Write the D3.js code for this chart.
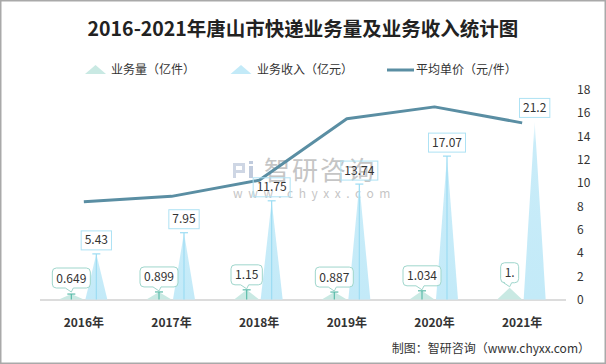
<!DOCTYPE html>
<html><head><meta charset="utf-8">
<script src="https://cdn.jsdelivr.net/npm/d3@7/dist/d3.min.js"></script>
<style>
html,body{margin:0;padding:0;background:#fff;}
text{font-family:"Noto Sans CJK SC","Microsoft YaHei",sans-serif;}
</style></head><body>
<svg id="chart" width="606" height="364"></svg>
<script>
const years = ["2016年","2017年","2018年","2019年","2020年","2021年"];
const volume = [0.649, 0.899, 1.15, 0.887, 1.034, 1.4];
const volumeLabels = ["0.649","0.899","1.15","0.887","1.034","1."];
const revenue = [5.43, 7.95, 11.75, 13.74, 17.07, 21.2];
const revenueLabels = ["5.43","7.95","11.75","13.74","17.07","21.2"];
const price = [8.37, 8.84, 10.22, 15.49, 16.51, 15.14];
const rightTicks = [0,2,4,6,8,10,12,14,16,18];
const legendNames = ["业务量（亿件）","业务收入（亿元）","平均单价（元/件）"];
const titleText = "2016-2021年唐山市快递业务量及业务收入统计图";
const sourceText = "制图：智研咨询（www.chyxx.com）";

const C = {vol:"#c9e9e3", volEdge:"#9fd6cc", volCap:"#5cbcaa", rev:"#c3eaf8", revCap:"#9cdcf3",
           revBox:"#aee2f4", line:"#5a8ea3", text:"#333"};

const svg = d3.select("#chart");
const defs = svg.append("defs");
const gr = defs.append("linearGradient").attr("id","revGrad").attr("x1",0).attr("y1",0).attr("x2",0).attr("y2",1);
gr.append("stop").attr("offset","0%").attr("stop-color",C.rev).attr("stop-opacity",0.25);
gr.append("stop").attr("offset","12%").attr("stop-color",C.rev).attr("stop-opacity",0.9);
gr.append("stop").attr("offset","100%").attr("stop-color",C.rev).attr("stop-opacity",1);

svg.append("rect").attr("x",0.75).attr("y",0.75).attr("width",604.5).attr("height",362.5)
  .attr("fill","#fff").attr("stroke","#a9a9a9").attr("stroke-width",1.5);

const x = d3.scaleBand().domain(years).range([40,566]);
const yL = d3.scaleLinear().domain([0,25]).range([299.5,89.5]);
const yR = d3.scaleLinear().domain([0,18]).range([299.5,89.5]);
const bw = 23, off = 12.5;

// title
svg.append("text").attr("x",303).attr("y",36).attr("text-anchor","middle")
  .attr("font-size",19.5).attr("font-weight","bold").attr("fill","#222").text(titleText);

// watermark
const wm = svg.append("g").attr("opacity",0.6);
wm.append("rect").attr("x",233).attr("y",163).attr("width",12).attr("height",3).attr("fill","#aebbd3");
wm.append("rect").attr("x",233).attr("y",163).attr("width",3).attr("height",15).attr("fill","#aebbd3");
wm.append("rect").attr("x",242).attr("y",163).attr("width",3).attr("height",9).attr("fill","#aebbd3");
wm.append("rect").attr("x",233).attr("y",170).attr("width",12).attr("height",3).attr("fill","#aebbd3");
wm.append("rect").attr("x",249).attr("y",166).attr("width",4).attr("height",12).attr("fill","#97a9c8");
wm.append("rect").attr("x",249).attr("y",161).attr("width",4).attr("height",3).attr("fill","#97a9c8");
wm.append("text").attr("x",264).attr("y",180).attr("font-size",26).attr("fill","#a0a0a0")
  .attr("letter-spacing",2).text("智研咨询");
wm.append("text").attr("x",233).attr("y",198).attr("font-size",12).attr("fill","#a0a0a0")
  .attr("letter-spacing",5.6).text("www.chyxx.com");

// baseline
svg.append("line").attr("x1",40).attr("x2",566).attr("y1",300).attr("y2",300)
  .attr("stroke","#d0d0d0").attr("stroke-width",1.5);

// right axis
const ra = svg.append("g");
ra.selectAll("text").data(rightTicks).join("text")
  .attr("x",577).attr("y",d=>yR(d)+4.5).attr("font-size",12).attr("fill",C.text).text(d=>d);

// x labels
svg.append("g").selectAll("text").data(years).join("text")
  .attr("x",d=>x(d)+x.bandwidth()/2).attr("y",327).attr("text-anchor","middle")
  .attr("font-size",12).attr("font-weight","bold").attr("fill",C.text).text(d=>d);

const tri = (cx, top, base, w) => `M${cx},${top}L${cx+w/2},${base}L${cx-w/2},${base}Z`;
const cxV = i => x(years[i]) + x.bandwidth()/2 - off;
const cxR = i => x(years[i]) + x.bandwidth()/2 + off;

// volume triangles
svg.append("g").selectAll("path").data(volume).join("path")
  .attr("d",(d,i)=>tri(cxV(i), yL(d), yL(0), bw+2)).attr("fill",C.vol);
// revenue triangles
svg.append("g").selectAll("path").data(revenue).join("path")
  .attr("d",(d,i)=>tri(cxR(i), yL(d), yL(0), bw-1)).attr("fill","url(#revGrad)");

// caps
function caps(vals, cxf, color){
  const g = svg.append("g").attr("stroke",color).attr("stroke-width",1.2);
  vals.forEach((d,i)=>{
    if(i===vals.length-1) return;
    const cx = cxf(i), t = yL(d);
    g.append("line").attr("x1",cx).attr("x2",cx).attr("y1",t).attr("y2",yL(0));
    g.append("line").attr("x1",cx-4).attr("x2",cx+4).attr("y1",t).attr("y2",t);
  });
}
caps(volume, cxV, C.volCap);
caps(revenue, cxR, C.revCap);

// line
const line = d3.line().x((d,i)=>x(years[i])+x.bandwidth()/2).y(d=>yR(d));
svg.append("path").datum(price).attr("d",line).attr("fill","none")
  .attr("stroke",C.line).attr("stroke-width",3).attr("stroke-linejoin","round");

// revenue labels
revenue.forEach((d,i)=>{
  const g = svg.append("g");
  const cx = cxR(i), bottom = yL(d)-4;
  const t = g.append("text").attr("x",cx).attr("y",bottom-5.5).attr("text-anchor","middle")
    .attr("font-size",12).attr("fill",C.text).text(revenueLabels[i]);
  const w = t.node().getComputedTextLength()+7;
  g.insert("rect","text").attr("x",cx-w/2).attr("y",bottom-19).attr("width",w).attr("height",19)
    .attr("fill","none").attr("stroke",C.revBox).attr("stroke-width",1);
});

// volume labels (callouts)
volume.forEach((d,i)=>{
  const g = svg.append("g");
  const cx = cxV(i), bottom = Math.min(yL(d)-5, 288);
  const t = g.append("text").attr("x",cx).attr("y",bottom-5.5).attr("text-anchor","middle")
    .attr("font-size",12).attr("fill",C.text).text(volumeLabels[i]);
  const w = t.node().getComputedTextLength()+8, h = 20, r = 4;
  const l = cx-w/2, rr = cx+w/2, top = bottom-h;
  const p = `M${l+r},${top}H${rr-r}Q${rr},${top} ${rr},${top+r}V${bottom-r}Q${rr},${bottom} ${rr-r},${bottom}`+
            `H${cx+2}L${cx},${bottom+4}L${cx-6},${bottom}H${l+r}Q${l},${bottom} ${l},${bottom-r}V${top+r}Q${l},${top} ${l+r},${top}Z`;
  g.insert("path","text").attr("d",p).attr("fill","#fff").attr("fill-opacity",0.85)
    .attr("stroke",C.volEdge).attr("stroke-width",1);
});

// legend
const lg = svg.append("g");
lg.append("path").attr("d",tri(95.5,65,74,21)).attr("fill",C.vol);
lg.append("text").attr("x",111).attr("y",74).attr("font-size",12).attr("fill",C.text).text(legendNames[0]);
lg.append("path").attr("d",tri(241,65,74,21)).attr("fill",C.rev);
lg.append("text").attr("x",257).attr("y",74).attr("font-size",12).attr("fill",C.text).text(legendNames[1]);
lg.append("line").attr("x1",387).attr("x2",414).attr("y1",70).attr("y2",70)
  .attr("stroke",C.line).attr("stroke-width",3);
lg.append("text").attr("x",416).attr("y",74).attr("font-size",12).attr("fill",C.text).text(legendNames[2]);

// source
svg.append("text").attr("x",590).attr("y",353).attr("text-anchor","end")
  .attr("font-size",12).attr("fill",C.text).text(sourceText);
</script></body></html>
